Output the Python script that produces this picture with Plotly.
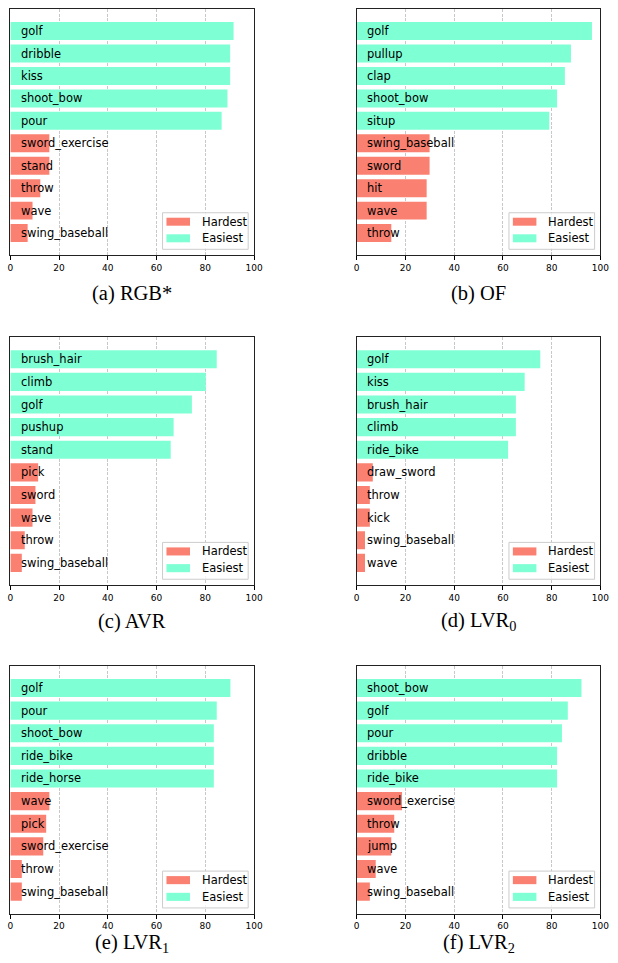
import plotly.graph_objects as go

# ---- per-class accuracy (%) : five easiest and five hardest classes per model ----
rgb_easy_names = ["golf", "dribble", "kiss", "shoot_bow", "pour"]
rgb_easy_vals = [91.6, 90.2, 90.2, 89.1, 86.7]
rgb_hard_names = ["sword_exercise", "stand", "throw", "wave", "swing_baseball"]
rgb_hard_vals = [16.0, 16.0, 12.3, 9.1, 7.1]

of_easy_names = ["golf", "pullup", "clap", "shoot_bow", "situp"]
of_easy_vals = [96.5, 87.9, 85.4, 82.2, 79.0]
of_hard_names = ["swing_baseball", "sword", "hit", "wave", "throw"]
of_hard_vals = [29.9, 29.9, 28.7, 28.7, 14.2]

avr_easy_names = ["brush_hair", "climb", "golf", "pushup", "stand"]
avr_easy_vals = [84.7, 80.2, 74.5, 67.0, 65.8]
avr_hard_names = ["pick", "sword", "wave", "throw", "swing_baseball"]
avr_hard_vals = [11.4, 10.3, 9.1, 5.9, 4.7]

lvr0_easy_names = ["golf", "kiss", "brush_hair", "climb", "ride_bike"]
lvr0_easy_vals = [75.3, 68.9, 65.3, 65.3, 62.1]
lvr0_hard_names = ["draw_sword", "throw", "kick", "swing_baseball", "wave"]
lvr0_hard_vals = [6.6, 5.4, 5.4, 3.4, 3.4]

lvr1_easy_names = ["golf", "pour", "shoot_bow", "ride_bike", "ride_horse"]
lvr1_easy_vals = [90.3, 84.7, 83.5, 83.5, 83.5]
lvr1_hard_names = ["wave", "pick", "sword_exercise", "throw", "swing_baseball"]
lvr1_hard_vals = [16.0, 14.7, 13.5, 4.7, 4.7]

lvr2_easy_names = ["shoot_bow", "golf", "pour", "dribble", "ride_bike"]
lvr2_easy_vals = [92.2, 86.6, 84.2, 82.2, 82.2]
lvr2_hard_names = ["sword_exercise", "throw", "jump", "wave", "swing_baseball"]
lvr2_hard_vals = [18.6, 15.4, 14.2, 7.8, 5.4]

captions = ["(a) RGB*", "(b) OF", "(c) AVR",
            "(d) LVR<sub>0</sub>", "(e) LVR<sub>1</sub>", "(f) LVR<sub>2</sub>"]

x_ticks = [0, 20, 40, 60, 80, 100]
legend_names = ["Hardest", "Easiest"]

panels = [
    (rgb_easy_names, rgb_easy_vals, rgb_hard_names, rgb_hard_vals),
    (of_easy_names, of_easy_vals, of_hard_names, of_hard_vals),
    (avr_easy_names, avr_easy_vals, avr_hard_names, avr_hard_vals),
    (lvr0_easy_names, lvr0_easy_vals, lvr0_hard_names, lvr0_hard_vals),
    (lvr1_easy_names, lvr1_easy_vals, lvr1_hard_names, lvr1_hard_vals),
    (lvr2_easy_names, lvr2_easy_vals, lvr2_hard_names, lvr2_hard_vals),
]

# ---- layout geometry (pixels) ----
W, H = 618, 963
HARD_COLOR = "#FA8072"   # salmon
EASY_COLOR = "#7FFFD4"   # aquamarine
col_px = [(7.5, 256.0), (360.7, 609.3)]
row_px = [(9.3, 255.3), (337.3, 585.3), (666.0, 914.0)]
caption_y_px = [293.3, 621.0, 943.5]

LABEL_FONT = dict(family="DejaVu Sans", size=11.5, color="#000000")
TICK_FONT = dict(family="DejaVu Sans", size=9, color="#000000")
CAP_FONT = dict(family="Liberation Serif", size=20.5, color="#000000")


def py(p):
    return 1 - p / H


fig = go.Figure()
layout = dict(
    width=W, height=H,
    margin=dict(l=0, r=0, t=0, b=0),
    paper_bgcolor="white", plot_bgcolor="white",
    showlegend=False, bargap=0.2,
    annotations=[], shapes=[],
)

for i, (e_names, e_vals, h_names, h_vals) in enumerate(panels):
    k = i + 1
    r, c = divmod(i, 2)
    sfx = "" if k == 1 else str(k)
    xa, ya = "x" + sfx, "y" + sfx
    order = e_names + h_names

    fig.add_trace(go.Bar(x=h_vals, y=h_names, orientation="h", marker_color=HARD_COLOR,
                         marker_line_width=0, width=0.8, name=legend_names[0],
                         xaxis=xa, yaxis=ya))
    fig.add_trace(go.Bar(x=e_vals, y=e_names, orientation="h", marker_color=EASY_COLOR,
                         marker_line_width=0, width=0.8, name=legend_names[1],
                         xaxis=xa, yaxis=ya))

    x0, x1 = col_px[c]
    y0, y1 = row_px[r]
    layout["xaxis" + sfx] = dict(
        domain=[x0 / W, x1 / W], anchor=ya, range=[0, 100],
        tickmode="array", tickvals=x_ticks, ticks="outside", ticklen=3.5,
        tickwidth=1, tickcolor="#000", tickfont=TICK_FONT,
        showgrid=True, gridcolor="#c8c8c8", griddash="3px,1.5px", gridwidth=0.8,
        showline=True, linecolor="#222", linewidth=1, mirror=True,
        zeroline=False, fixedrange=True,
    )
    layout["yaxis" + sfx] = dict(
        domain=[py(y1), py(y0)], anchor=xa, type="category",
        categoryorder="array", categoryarray=order,
        range=[9.99, -0.97], showticklabels=False, ticks="",
        showgrid=False, showline=True, linecolor="#222", linewidth=1,
        mirror=True, zeroline=False, fixedrange=True,
    )

    # class names written inside the bars
    for name in order:
        layout["annotations"].append(dict(
            x=3.6, y=name, xref=xa, yref=ya, text=name, showarrow=False,
            xanchor="left", yanchor="middle", font=LABEL_FONT,
        ))

    # legend box in the lower right corner of each panel
    dx, dy = xa + " domain", ya + " domain"
    layout["shapes"].append(dict(
        type="rect", xref=dx, yref=dy, x0=0.6246, x1=0.976, y0=0.0244, y1=0.173,
        line=dict(color="#cccccc", width=1), fillcolor="rgba(255,255,255,0.8)", layer="above",
    ))
    for j, (lbl, col) in enumerate(zip(legend_names, [HARD_COLOR, EASY_COLOR])):
        sy0, sy1 = [(0.1203, 0.1528), (0.0528, 0.0854)][j]
        layout["shapes"].append(dict(
            type="rect", xref=dx, yref=dy, x0=0.6406, x1=0.7372, y0=sy0, y1=sy1,
            line=dict(width=0), fillcolor=col, layer="above",
        ))
        layout["annotations"].append(dict(
            x=0.7775, y=(sy0 + sy1) / 2, xref=dx, yref=dy, text=lbl, showarrow=False,
            xanchor="left", yanchor="middle", font=LABEL_FONT,
        ))

    # sub-figure caption
    layout["annotations"].append(dict(
        x=(x0 + x1) / 2 / W, y=py(caption_y_px[r]), xref="paper", yref="paper",
        text=captions[i], showarrow=False, xanchor="center", yanchor="middle",
        font=CAP_FONT,
    ))

fig.update_layout(**layout)
fig.write_html("out.html")
